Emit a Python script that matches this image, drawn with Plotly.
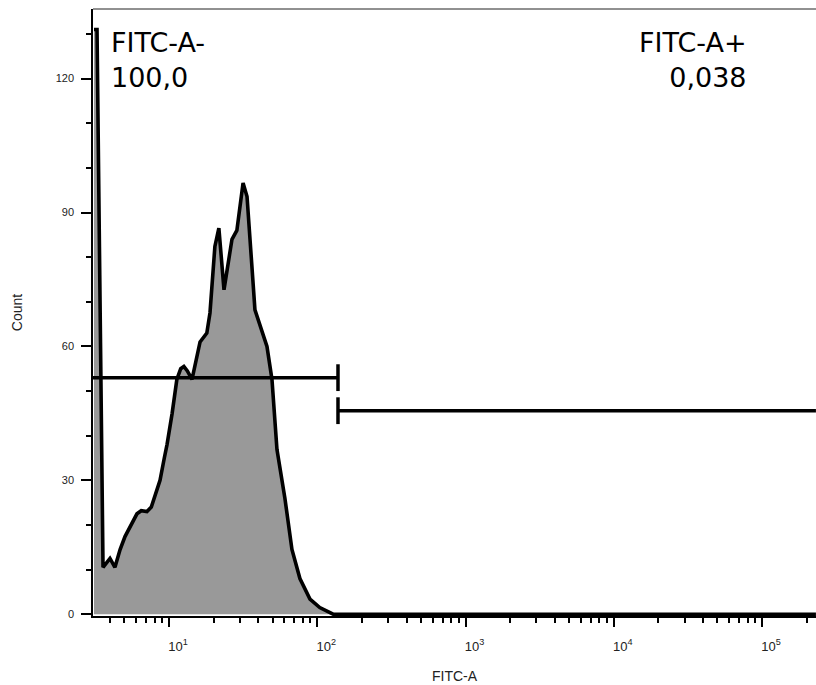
import plotly.graph_objects as go

# ---- data ----
fitc_a = [3.12, 3.27, 3.59, 4.0, 4.32, 4.68, 5.05, 5.62, 6.08, 6.5, 7.1, 7.6, 8.05,
          8.7, 9.3, 9.7, 10.5, 11.3, 12.0, 12.6, 13.3, 14.3, 16.2, 18.0, 18.9, 20.4,
          21.7, 23.5, 26.6, 28.7, 31.6, 33.6, 38.0, 41.1, 45.8, 49.5, 53.5, 60.5,
          67.5, 76.4, 89.3, 104, 128, 231000]
count = [131, 131, 10.5, 12.5, 10.5, 14.5, 17.4, 20.6, 22.5, 23.2, 23, 24, 26.5,
         30, 35, 38, 45, 52.6, 55, 55.5, 54.5, 52.6, 61, 63, 67.5, 82.4,
         86.5, 72.7, 84, 86, 96.6, 93.6, 68.2, 64.5, 60, 52.6, 36.9, 26,
         14.5, 8, 3.4, 1.5, 0, 0]

# gates: name, x-start, x-end, level
gate_names = ["FITC-A-", "FITC-A+"]
gate_pct = ["100,0", "0,038"]
gate_x0 = [3.07, 138]
gate_x1 = [138, 231000]
gate_y = [53, 45.6]

# axis ticks
x_range_log = [0.4875, 5.364]
y_range = [-0.4, 135.6]
x_tickvals = [10, 100, 1000, 10000, 100000]
x_ticktext = ["10<sup>1</sup>", "10<sup>2</sup>", "10<sup>3</sup>", "10<sup>4</sup>", "10<sup>5</sup>"]
y_tickvals = [0, 30, 60, 90, 120]
y_ticktext = ["0", "30", "60", "90", "120"]

fig = go.Figure()

fig.add_trace(go.Scatter(
    x=fitc_a, y=count, mode="lines", fill="tozeroy",
    fillcolor="#999999", line=dict(color="black", width=3.6),
    hoverinfo="skip", showlegend=False, cliponaxis=True))

# gate lines
bar = 3.0
# left gate (bar at right end)
fig.add_trace(go.Scatter(
    x=[gate_x0[0], gate_x1[0], None, gate_x1[0], gate_x1[0]],
    y=[gate_y[0], gate_y[0], None, gate_y[0] - bar, gate_y[0] + bar],
    mode="lines", line=dict(color="black", width=3.5), showlegend=False, hoverinfo="skip"))
# right gate (bar at left end)
fig.add_trace(go.Scatter(
    x=[gate_x0[1], gate_x1[1], None, gate_x0[1], gate_x0[1]],
    y=[gate_y[1], gate_y[1], None, gate_y[1] - bar, gate_y[1] + bar],
    mode="lines", line=dict(color="black", width=3.5), showlegend=False, hoverinfo="skip"))

big_font = dict(family="DejaVu Sans", size=27, color="black")
fig.add_annotation(x=0.022, y=0.974, xref="paper", yref="paper", xanchor="left", yanchor="top",
                   text=gate_names[0] + "<br>" + gate_pct[0], showarrow=False, align="left",
                   font=big_font)
fig.add_annotation(x=0.908, y=0.974, xref="paper", yref="paper", xanchor="right", yanchor="top",
                   text=gate_names[1] + "<br>" + gate_pct[1], showarrow=False, align="right",
                   font=big_font)

# top border
fig.add_shape(type="line", xref="paper", yref="paper", x0=0, x1=1, y0=1, y1=1,
              line=dict(color="#222222", width=1))

fig.update_layout(
    width=816, height=685,
    margin=dict(l=93, r=0, t=9, b=69),
    paper_bgcolor="white", plot_bgcolor="white",
    font=dict(family="Liberation Sans", color="#222222"),
    xaxis=dict(
        type="log", range=x_range_log, showgrid=False, zeroline=False,
        showline=True, linecolor="black", linewidth=2,
        ticks="outside", tickvals=x_tickvals, ticktext=x_ticktext,
        ticklen=9, tickwidth=2, tickcolor="black",
        tickfont=dict(size=13, family="Liberation Sans", color="#222222"),
        ticklabelshift=9, ticklabelstandoff=8,
        minor=dict(ticks="outside", dtick="D1", ticklen=5, tickwidth=1.5, tickcolor="black", showgrid=False),
        title=dict(text="FITC-A", font=dict(size=14, family="Liberation Sans", color="#222222"), standoff=19),
    ),
    yaxis=dict(
        range=y_range, showgrid=False, zeroline=False,
        showline=True, linecolor="black", linewidth=1.5,
        ticks="outside", tickvals=y_tickvals, ticktext=y_ticktext,
        ticklen=10, tickwidth=2, tickcolor="black",
        tickfont=dict(size=11, family="Liberation Sans", color="#222222"),
        ticklabelstandoff=5,
        minor=dict(ticks="outside", dtick=10, ticklen=5, tickwidth=1.5, tickcolor="black", showgrid=False),
        title=dict(text="Count", font=dict(size=14, family="Liberation Sans", color="#222222"), standoff=30),
    ),
)

fig.write_html("out.html")
